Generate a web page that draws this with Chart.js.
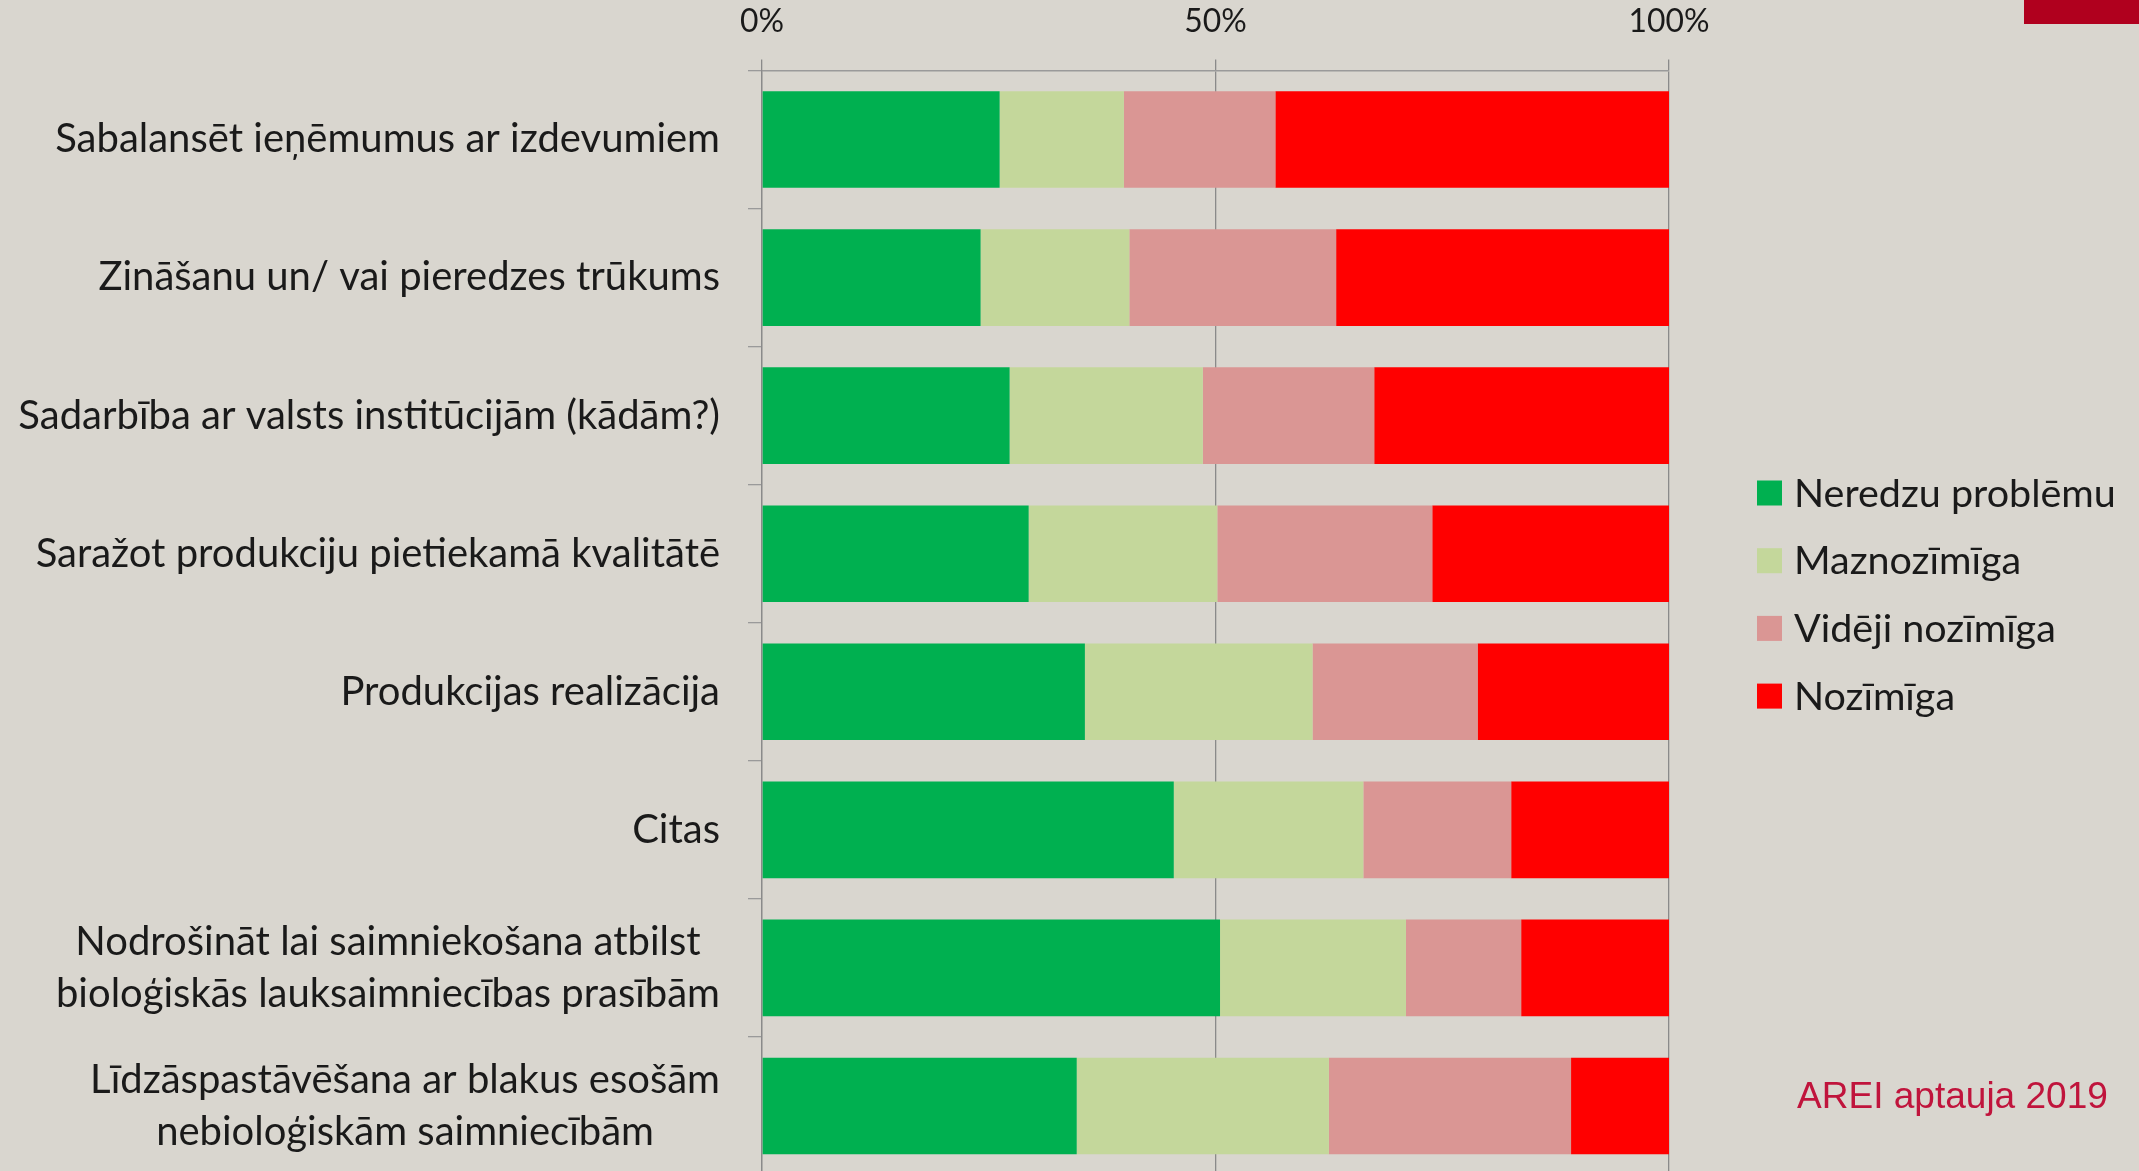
<!DOCTYPE html>
<html><head><meta charset="utf-8">
<script src="https://cdn.jsdelivr.net/npm/chart.js@4/dist/chart.umd.min.js"></script>
<style>
html,body{margin:0;padding:0;background:#D9D6CF;overflow:hidden;}
#wrap{position:relative;width:2139px;height:1171px;overflow:hidden;}
#corner{position:absolute;left:2024px;top:0;width:115px;height:24px;background:#B0001E;}
</style></head><body>
<div id="wrap"><canvas id="c" width="2139" height="1175"></canvas><div id="corner"></div></div>
<script>
// ---- data ----
const categories = [
  ['Sabalansēt ieņēmumus ar izdevumiem'],
  ['Zināšanu un/ vai pieredzes trūkums'],
  ['Sadarbība ar valsts institūcijām (kādām?)'],
  ['Saražot produkciju pietiekamā kvalitātē'],
  ['Produkcijas realizācija'],
  ['Citas'],
  ['Nodrošināt lai saimniekošana atbilst', 'bioloģiskās lauksaimniecības prasībām'],
  ['Līdzāspastāvēšana ar blakus esošām', 'nebioloģiskām saimniecībām']
];
const seriesNames = ['Neredzu problēmu', 'Maznozīmīga', 'Vidēji nozīmīga', 'Nozīmīga'];
const neredzuProblemu = [26.2, 24.1, 27.3, 29.4, 35.6, 45.4, 50.5, 34.7];
const maznozimiga     = [13.7, 16.4, 21.3, 20.8, 25.1, 20.9, 20.5, 27.8];
const vidējiNozimiga  = [16.7, 22.8, 18.9, 23.7, 18.2, 16.3, 12.7, 26.7];
const nozimiga        = [43.4, 36.7, 32.5, 26.1, 21.1, 17.4, 16.3, 10.8];
const xTickValues = [0, 50, 100];
const sourceNote = 'AREI aptauja 2019';

// ---- styles ----
const colors = ['#00B050', '#C4D79B', '#DA9694', '#FF0000'];
const FONT = 'Lato, "Open Sans", sans-serif';
const TEXT = '#1a1a1a';
const meas = document.createElement('canvas').getContext('2d');
function fit(text, family, target){ meas.font = '100px ' + family; return 100 * target / meas.measureText(text).width; }
const labelSize = fit(categories[0][0], FONT, 665);
const legendSize = fit(seriesNames[0], FONT, 322);
const tickSize = fit('100%', FONT, 81);
const noteSize = fit(sourceNote, '"Liberation Sans", Arial, sans-serif', 311);

const values = [neredzuProblemu, maznozimiga, vidējiNozimiga, nozimiga];
const datasets = seriesNames.map((n, i) => ({
  label: n, data: values[i], backgroundColor: colors[i], borderWidth: 0,
  barPercentage: 0.7, categoryPercentage: 1.0
}));

const overlay = {
  id: 'overlay',
  afterDraw(chart) {
    const ctx = chart.ctx;
    const ys = chart.scales.y;
    ctx.save();
    // category labels: block right-aligned, lines centred inside block
    ctx.font = labelSize + 'px ' + FONT;
    ctx.fillStyle = TEXT;
    ctx.textAlign = 'center';
    ctx.textBaseline = 'middle';
    const lineH = 52;
    const right = ys.right - 14 - 28;
    categories.forEach((lines, i) => {
      const cy = ys.getPixelForTick(i);
      const bw = Math.max(...lines.map(l => ctx.measureText(l).width));
      const cx = right - bw / 2;
      lines.forEach((l, k) => {
        ctx.fillText(l, cx, cy + (k - (lines.length - 1) / 2) * lineH);
      });
    });
    // legend
    ctx.font = legendSize + 'px ' + FONT;
    ctx.textAlign = 'left';
    chart.data.datasets.forEach((d, i) => {
      const cy = 493 + i * 67.7;
      ctx.fillStyle = d.backgroundColor;
      ctx.fillRect(1757, cy - 12.5, 25, 25);
      ctx.fillStyle = TEXT;
      ctx.fillText(d.label, 1794, cy + 1);
    });
    // source note
    ctx.font = noteSize + 'px "Liberation Sans", Arial, sans-serif';
    ctx.fillStyle = '#C0143C';
    ctx.textBaseline = 'alphabetic';
    ctx.fillText(sourceNote, 1797, 1108);
    ctx.restore();
  }
};

new Chart(document.getElementById('c'), {
  type: 'bar',
  data: { labels: categories.map(c => c.join(' ')), datasets },
  options: {
    indexAxis: 'y',
    responsive: false,
    animation: false,
    devicePixelRatio: 1,
    layout: { padding: { left: 0, right: 470, top: 0, bottom: 0 } },
    plugins: { legend: { display: false }, tooltip: { enabled: false } },
    scales: {
      x: {
        position: 'top', stacked: true, min: 0, max: 100,
        afterBuildTicks: s => { s.ticks = xTickValues.map(v => ({ value: v })); },
        afterFit: s => { s.height = 70.5; },
        ticks: {
          callback: v => v + '%',
          font: { family: FONT, size: tickSize },
          color: TEXT,
          padding: 70 - 11 - 21 - 0.6 * tickSize,
          maxRotation: 0
        },
        grid: { color: '#8a8a8a', lineWidth: 1.3, tickLength: 11, drawTicks: true },
        border: { display: true, color: '#9a9a9a', width: 1.5 }
      },
      y: {
        stacked: true,
        afterFit: s => { s.width = 762; },
        ticks: { display: false },
        grid: { offset: true, drawOnChartArea: false, tickLength: 14, color: '#9a9a9a', lineWidth: 1.3 },
        border: { display: true, color: '#8a8a8a', width: 1.3 }
      }
    }
  },
  plugins: [overlay]
});
</script>
</body></html>
